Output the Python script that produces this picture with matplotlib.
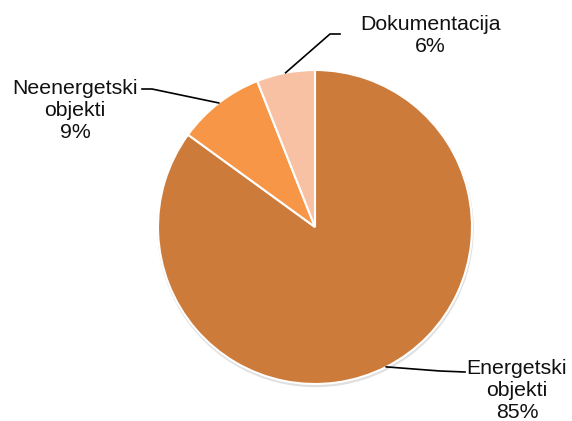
import matplotlib.pyplot as plt
import matplotlib.patches as mpatches
import numpy as np

labels = ['Energetski\nobjekti', 'Neenergetski\nobjekti', 'Dokumentacija']
values = [85, 9, 6]
colors = ['#CD7B3A', '#F79646', '#F9C1A3']

W, H = 572, 421
cx, cy, r = 315, H - 227, 157

fig = plt.figure(figsize=(W / 100, H / 100), dpi=100)
ax = fig.add_axes([0, 0, 1, 1])
ax.set_xlim(0, W)
ax.set_ylim(0, H)
ax.set_aspect('equal')
ax.axis('off')

# soft shadow under the pie
ax.add_patch(mpatches.Circle((cx + 0.5, cy - 2), r + 0.5, color='#e0e0e0', zorder=0))

wedges, _ = ax.pie(values, colors=colors, startangle=90, counterclock=False,
                   center=(cx, cy), radius=r, frame=True,
                   wedgeprops=dict(edgecolor='white', linewidth=1.5))
ax.set_xlim(0, W)
ax.set_ylim(0, H)
ax.axis('off')

# text position, elbow of leader, end of leader (pixel coords, y from top)
text_pos = [(517, 391), (75, 110), (430, 35)]
elbows = [(440, 371), (152, 89), (330, 34)]
ends = [(465, 372), (142, 89), (340, 34)]

for w, lab, v, tp, el, en in zip(wedges, labels, values, text_pos, elbows, ends):
    ang = np.deg2rad((w.theta1 + w.theta2) / 2)
    x0 = cx + r * np.cos(ang)
    y0 = cy + r * np.sin(ang)
    ax.plot([x0, el[0], en[0]], [y0, H - el[1], H - en[1]], color='black', lw=1.2, zorder=5)
    ax.text(tp[0], H - tp[1], '%s\n%d%%' % (lab, v), ha='center', va='center',
            fontsize=15.3, family='Liberation Sans', linespacing=1.2, color='#111111')

fig.savefig('out.png', dpi=100)
